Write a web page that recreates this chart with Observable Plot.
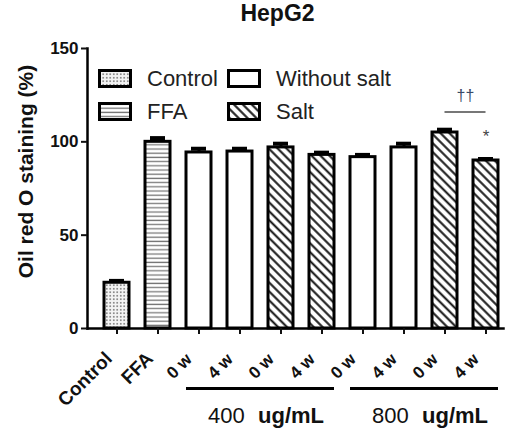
<!DOCTYPE html>
<html><head><meta charset="utf-8">
<script src="https://cdn.jsdelivr.net/npm/d3@7"></script>
<script src="https://cdn.jsdelivr.net/npm/@observablehq/plot@0.6"></script>
<style>
body{margin:0;background:#fff;}
#wrap{position:relative;width:517px;height:434px;font-family:"Liberation Sans",Arial,sans-serif;color:#222;}
#legend{position:absolute;left:98px;top:62px;display:grid;grid-template-columns:129px auto;grid-auto-rows:33px;}
.item{display:flex;align-items:center;gap:15px;font-size:22px;line-height:1;}
.item svg{display:block;}
</style></head><body>
<svg width="0" height="0" style="position:absolute">
<defs>
<pattern id="pDots" patternUnits="userSpaceOnUse" width="3.5" height="3.5">
<rect width="3.5" height="3.5" fill="#f4f4f4"/><circle cx="1.75" cy="1.75" r="0.85" fill="#666"/></pattern>
<pattern id="pHLines" patternUnits="userSpaceOnUse" width="4" height="4.2">
<rect width="4" height="4.2" fill="#fff"/><line x1="0" x2="4" y1="2" y2="2" stroke="#777" stroke-width="1.3"/></pattern>
<pattern id="pDiag" patternUnits="userSpaceOnUse" width="6.3" height="10" patternTransform="rotate(-45)">
<rect width="6.3" height="10" fill="#fff"/><line x1="3.15" x2="3.15" y1="0" y2="10" stroke="#111" stroke-width="2"/></pattern>
</defs></svg>
<div id="wrap"></div>
<script>
// ---- data ----
const barIds = ["ctrl","ffa","w400_0","w400_4","s400_0","s400_4","w800_0","w800_4","s800_0","s800_4"];
const tickLabels = ["Control","FFA","0 w","4 w","0 w","4 w","0 w","4 w","0 w","4 w"];
const treatments = ["Control","FFA","Without salt","Without salt","Salt","Salt","Without salt","Without salt","Salt","Salt"];
const means = [24.5, 100, 94.3, 94.8, 97, 93, 91.8, 97, 105, 90];
const errors = [1, 2, 2, 1.5, 2, 1.2, 1.2, 2, 1.5, 0.8];
const yTicks = [0, 50, 100, 150];
const legendNames = ["Control", "Without salt", "FFA", "Salt"];
const groupDose = ["400", "800"];
const groupUnit = ["ug/mL", "ug/mL"];
const groupFirst = ["w400_0", "w800_0"];
const groupLast = ["s400_4", "s800_4"];
const sigFrom = ["s800_0"], sigTo = ["s800_4"], sigLevel = [116], sigMark = ["††"];
const starBar = ["s800_4"], starMark = ["*"];

const fillOf = {"Control":"url(#pDots)","FFA":"url(#pHLines)","Without salt":"#fff","Salt":"url(#pDiag)"};
const data = barIds.map((id,i)=>({id, label: tickLabels[i], treatment: treatments[i], mean: means[i], err: errors[i]}));
const groups = groupDose.map((d,i)=>({dose:d, unit:groupUnit[i], first:groupFirst[i], last:groupLast[i]}));
const sigs = sigFrom.map((f,i)=>({from:f, to:sigTo[i], level:sigLevel[i], mark:sigMark[i]}));
const stars = starBar.map((b,i)=>({id:b, mark:starMark[i], top: means[barIds.indexOf(b)] + errors[barIds.indexOf(b)]}));
const labelOf = Object.fromEntries(barIds.map((id,i)=>[id, tickLabels[i]]));
const bigLabel = id => (id === "ctrl" || id === "ffa") ? labelOf[id] : "";
const smallLabel = id => (id === "ctrl" || id === "ffa") ? "" : labelOf[id];

const plot = Plot.plot({
  width: 517, height: 434,
  marginLeft: 87, marginRight: 14, marginTop: 48, marginBottom: 106,
  style: {fontFamily: "'Liberation Sans', Arial, sans-serif", background: "#fff", color: "#111", overflow: "visible"},
  x: {domain: barIds, range: [99.5, 502], paddingInner: 0.4, paddingOuter: 0},
  y: {domain: [0, 150]},
  color: {domain: Object.keys(fillOf), range: Object.values(fillOf)},
  marks: [
    Plot.barY(data, {x: "id", y: "mean", fill: "treatment", stroke: "#000", strokeWidth: 3}),
    Plot.ruleX(data, {x: "id", y1: "mean", y2: d => d.mean + d.err, stroke: "#000", strokeWidth: 3}),
    Plot.tickY(data, {x: "id", y: d => d.mean + d.err, stroke: "#000", strokeWidth: 4, insetLeft: 5, insetRight: 5}),
    Plot.frame({anchor: "left", stroke: "#000", strokeWidth: 2.5}),
    Plot.frame({anchor: "bottom", stroke: "#000", strokeWidth: 2.5}),
    Plot.axisY({ticks: yTicks, tickSize: 6, tickPadding: 3, strokeWidth: 2, fontSize: 17, fontWeight: "bold", label: null, tickFormat: d => String(d)}),
    Plot.axisX({tickSize: 6, strokeWidth: 2, label: null, tickFormat: () => ""}),
    Plot.axisX({tickSize: 0, tickRotate: -45, tickPadding: 20, dx: -8, dy: 7, fontSize: 19, fontWeight: "bold", label: null, tickFormat: bigLabel}),
    Plot.axisX({tickSize: 0, tickRotate: -45, tickPadding: 20, dx: -10, dy: 8, fontSize: 17, fontWeight: "bold", label: null, tickFormat: smallLabel}),
    Plot.text(["Oil red O staining (%)"], {text: d => d, frameAnchor: "left", textAnchor: "middle", lineAnchor: "middle", rotate: -90, dx: -61, dy: -17, fontSize: 21, fontWeight: "bold", fill: "#111"}),
    Plot.text(["HepG2"], {text: d => d, frameAnchor: "top", textAnchor: "middle", lineAnchor: "middle", dx: -18, dy: -35, fontSize: 23, fontWeight: "bold", fill: "#111"}),
    Plot.ruleY(groups, {x1: "first", x2: "last", y: 0, dy: 60, stroke: "#000", strokeWidth: 3}),
    Plot.text(groups, {x: "first", y: 0, text: "dose", textAnchor: "start", dx: 9, dy: 87, fontSize: 22, fill: "#111"}),
    Plot.text(groups, {x: "first", y: 0, text: "unit", textAnchor: "start", dx: 59, dy: 87, fontSize: 22, fontWeight: "bold", fill: "#111"}),
    Plot.ruleY(sigs, {x1: "from", x2: "to", y: "level", stroke: "#777", strokeWidth: 2, insetLeft: 12.5, insetRight: 12.5}),
    Plot.text(sigs, {x: "from", y: "level", text: "mark", dx: 20.5, dy: -16, fontSize: 16, fill: "#3b4a66"}),
    Plot.text(stars, {x: "id", y: "top", text: "mark", dy: -22, fontSize: 17, fill: "#444"})
  ]
});

const wrap = document.getElementById("wrap");
wrap.appendChild(plot);

// legend (HTML overlay)
const legend = document.createElement("div");
legend.id = "legend";
for (const name of legendNames) {
  const item = document.createElement("div");
  item.className = "item";
  item.innerHTML = `<svg width="34" height="19"><rect x="1.5" y="1.5" width="31" height="16" fill="${fillOf[name]}" stroke="#000" stroke-width="3"/></svg><span>${name}</span>`;
  legend.appendChild(item);
}
wrap.appendChild(legend);
</script>
</body></html>
